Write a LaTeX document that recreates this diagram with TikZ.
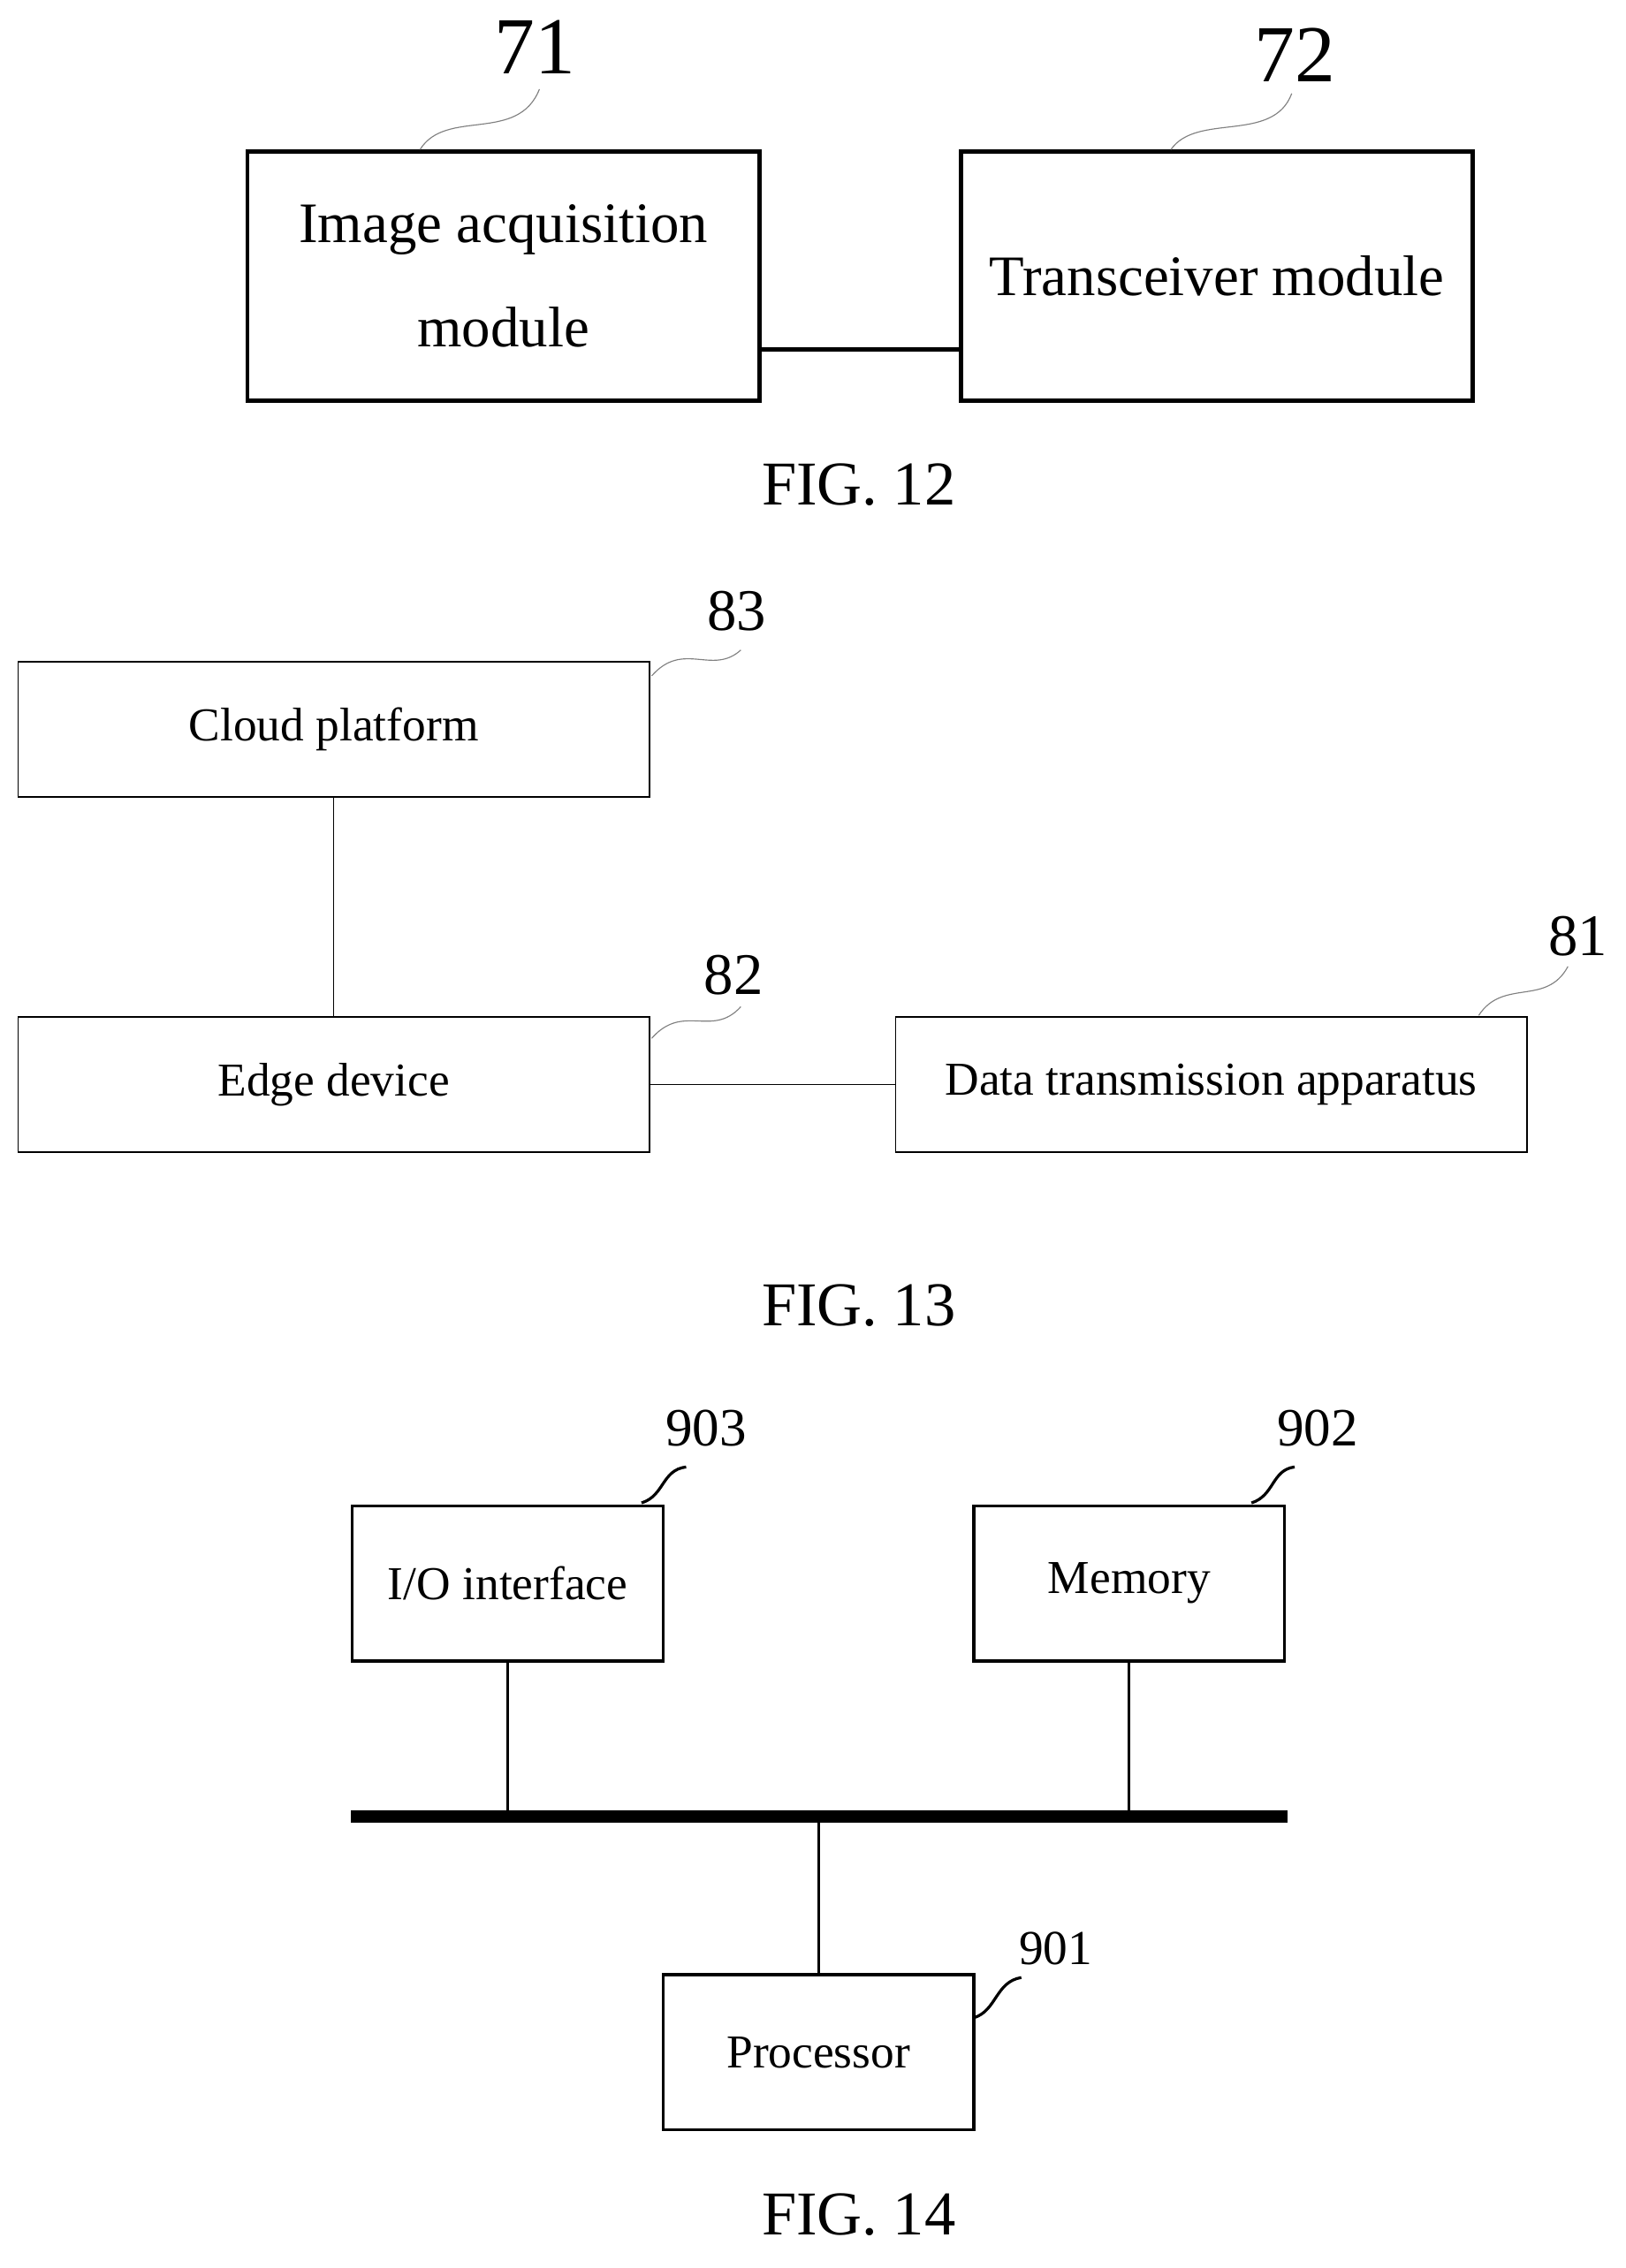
\documentclass[tikz,border=0pt]{standalone}
\usepackage{fontspec}
\setmainfont{Liberation Serif}
\usetikzlibrary{positioning}

\begin{document}
\begin{tikzpicture}[x=0.03cm,y=-0.03cm,
    big box/.style={draw,line width=2.5pt,minimum width=356*0.03cm,minimum height=173*0.03cm,align=center,font=\fontsize{34}{62}\selectfont},
    thin box/.style={draw,line width=0.8pt,minimum width=439*0.03cm,minimum height=94*0.03cm,font=\fontsize{28}{34}\selectfont},
    mid box/.style={draw,line width=1.7pt,minimum width=216*0.03cm,minimum height=108*0.03cm,font=\fontsize{28}{34}\selectfont},
    caption/.style={font=\fontsize{37}{44}\selectfont},
    leader/.style={line width=0.6pt,gray}]
  \useasboundingbox (0,0) rectangle (1130,1577);

  % FIG. 12
  \node[big box] (acq) at (350,192) {Image acquisition\\module};
  \node[big box] (trx) at (846,192) {Transceiver module};
  \draw[line width=2.5pt] (acq.east |- 0,243) -- (trx.west |- 0,243);
  \node[font=\fontsize{48}{56}\selectfont] (n71) at (372,33) {71};
  \node[font=\fontsize{48}{56}\selectfont] (n72) at (900,38) {72};
  \draw[leader] (292,104) .. controls (310,75) and (360,100) .. (375,62);
  \draw[leader] (814,104) .. controls (832,78) and (885,100) .. (898,65);
  \node[caption] (fig12) at (597,337) {FIG. 12};

  % FIG. 13
  \node[thin box] (cloud) at (232,507) {Cloud platform};
  \node[thin box] (edge) at (232,754) {Edge device};
  \node[thin box] (data) at (842,754) {Data transmission apparatus};
  \draw[line width=0.8pt] (cloud) -- (edge);
  \draw[line width=0.8pt] (edge) -- (data);
  \node[font=\fontsize{35}{40}\selectfont] (n83) at (512,425) {83};
  \node[font=\fontsize{35}{40}\selectfont] (n82) at (510,678) {82};
  \node[font=\fontsize{35}{40}\selectfont] (n81) at (1097,651) {81};
  \draw[leader] (453,470) .. controls (475,445) and (495,470) .. (515,452);
  \draw[leader] (453,722) .. controls (475,697) and (495,722) .. (515,700);
  \draw[leader] (1028,706) .. controls (1045,680) and (1075,700) .. (1090,672);
  \node[caption] (fig13) at (597,908) {FIG. 13};

  % FIG. 14
  \node[mid box] (io) at (353,1101) {I/O interface};
  \node[mid box] (mem) at (785,1101) {Memory};
  \node[mid box] (proc) at (569,1427) {Processor};
  \coordinate (busl) at (244,1263);
  \coordinate (busr) at (895,1263);
  \draw[line width=7pt] (busl) -- (busr);
  \draw[line width=1.7pt] (io.south) -- (io.south |- busl);
  \draw[line width=1.7pt] (mem.south) -- (mem.south |- busl);
  \draw[line width=1.7pt] (proc.north) -- (proc.north |- busl);
  \node[font=\fontsize{32}{38}\selectfont] (n903) at (491,993) {903};
  \node[font=\fontsize{32}{38}\selectfont] (n902) at (916,993) {902};
  \node[font=\fontsize{29}{34}\selectfont] (n901) at (734,1355) {901};
  \draw[line width=1.7pt] (446,1045) .. controls (462,1040) and (460,1022) .. (477,1020);
  \draw[line width=1.7pt] (870,1045) .. controls (886,1040) and (884,1022) .. (900,1020);
  \draw[line width=1.7pt] (677,1403) .. controls (693,1398) and (692,1378) .. (710,1375);
  \node[caption] (fig14) at (597,1540) {FIG. 14};
\end{tikzpicture}
\end{document}
